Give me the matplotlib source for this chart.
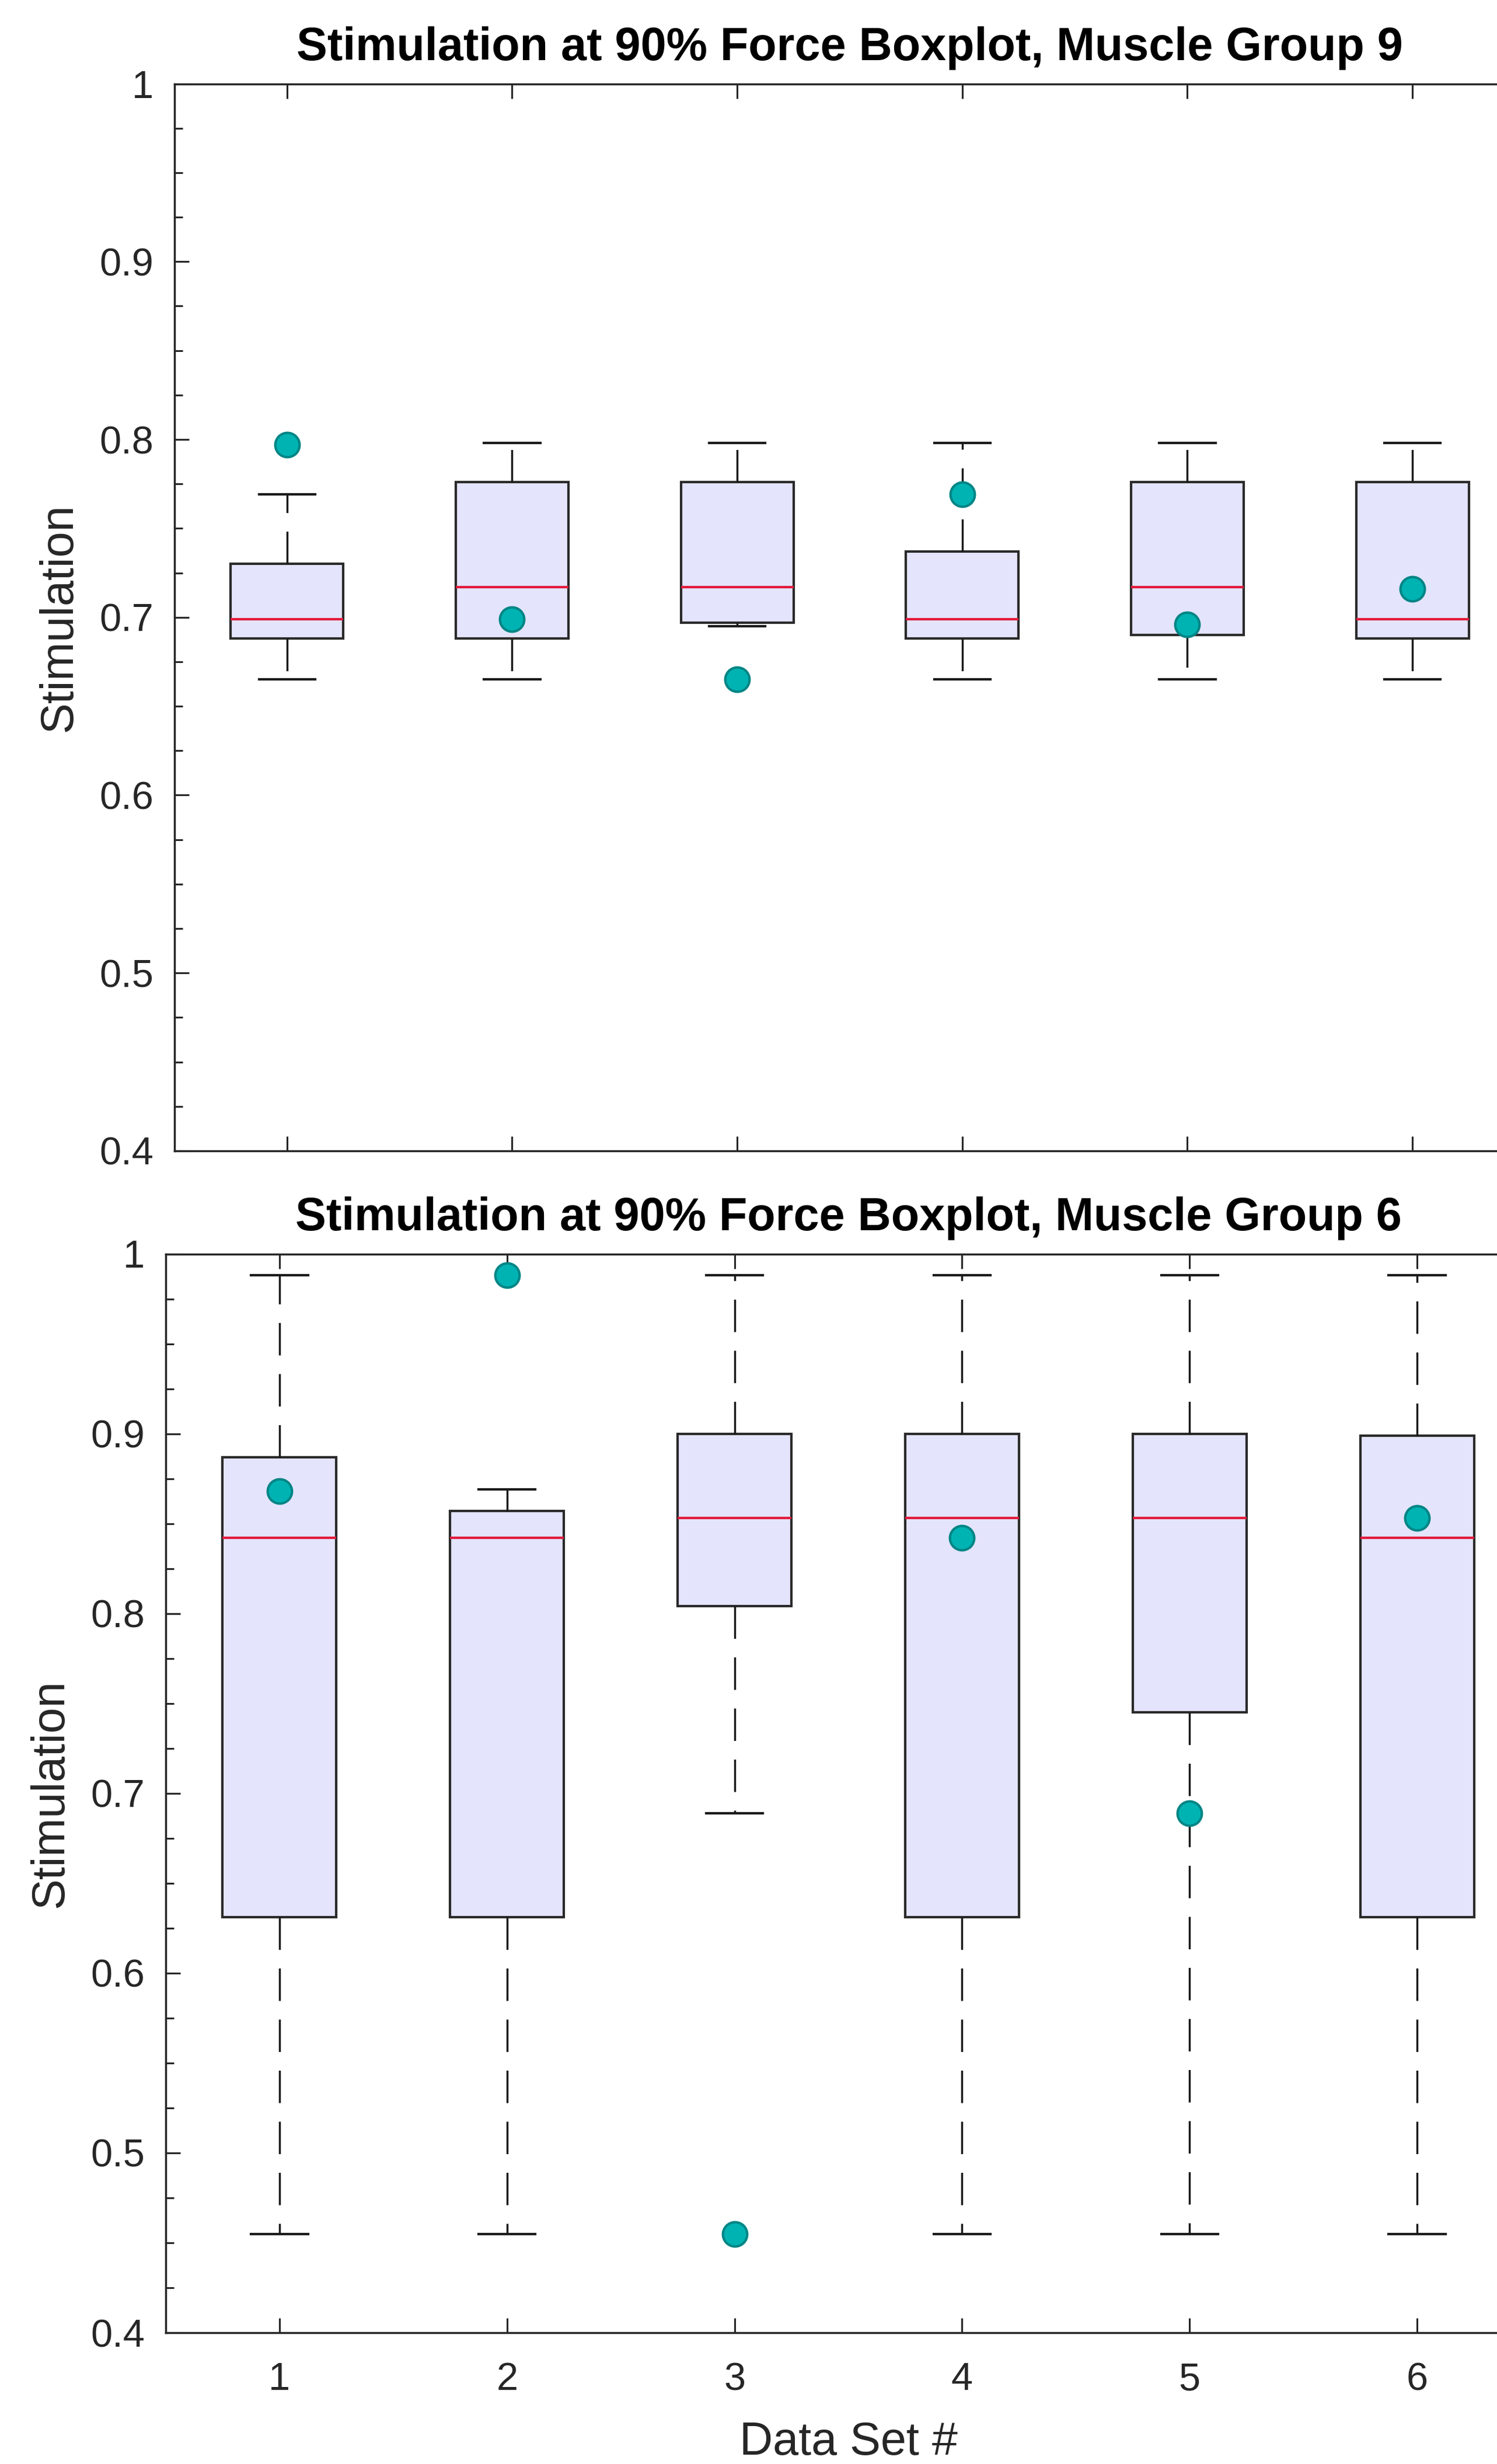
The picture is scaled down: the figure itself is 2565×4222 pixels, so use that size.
import matplotlib
matplotlib.use("Agg")
import matplotlib.pyplot as plt
from matplotlib.ticker import MultipleLocator, FuncFormatter

# data (one entry per data set 1..6)
sets = [1, 2, 3, 4, 5, 6]

# muscle group 9
med9 = [0.699, 0.717, 0.717, 0.699, 0.717, 0.699]
q1_9 = [0.688, 0.688, 0.697, 0.688, 0.690, 0.688]
q3_9 = [0.730, 0.776, 0.776, 0.737, 0.776, 0.776]
lo9 = [0.665, 0.665, 0.695, 0.665, 0.665, 0.665]
hi9 = [0.769, 0.798, 0.798, 0.798, 0.798, 0.798]
dots9 = [0.797, 0.699, 0.665, 0.769, 0.696, 0.716]

# muscle group 6
med6 = [0.842, 0.842, 0.853, 0.853, 0.853, 0.842]
q1_6 = [0.631, 0.631, 0.804, 0.631, 0.745, 0.631]
q3_6 = [0.887, 0.857, 0.900, 0.900, 0.900, 0.899]
lo6 = [0.455, 0.455, 0.689, 0.455, 0.455, 0.455]
hi6 = [0.988, 0.869, 0.988, 0.988, 0.988, 0.988]
dots6 = [0.868, 0.988, 0.455, 0.842, 0.689, 0.853]

plt.rcParams['font.family'] = ['Liberation Sans', 'DejaVu Sans']

W, H = 2565, 4222
fig = plt.figure(figsize=(W / 100, H / 100), dpi=100)
fig.patch.set_facecolor('white')

ax1 = fig.add_axes([299 / W, 1 - 1972 / H, (2613 - 299) / W, (1972 - 143.5) / H])
ax2 = fig.add_axes([284 / W, 1 - 3997 / H, (2623 - 284) / W, (3997 - 2148.5) / H])

dark = '#262626'


def draw(ax, med, q1, q3, lo, hi, dots, title):
    stats = []
    for i in range(len(sets)):
        stats.append({'med': med[i], 'q1': q1[i], 'q3': q3[i],
                      'whislo': lo[i], 'whishi': hi[i], 'fliers': []})
    ax.bxp(stats, positions=sets, widths=0.5, capwidths=0.25,
           patch_artist=True, showfliers=False,
           boxprops=dict(facecolor='#e4e4fc', edgecolor='#2a2a2a', linewidth=3),
           whiskerprops=dict(color='#1a1a1a', linewidth=2.5, linestyle=(0, (16, 9.2))),
           capprops=dict(color='#1a1a1a', linewidth=3),
           medianprops=dict(color='#e31a3c', linewidth=3))
    ax.plot(sets, dots, 'o', color='#00b3b3', markeredgecolor='#008585',
            markersize=30, markeredgewidth=3, zorder=5)

    ax.set_xlim(0.5, 6.5)
    ax.set_ylim(0.4, 1.0)
    ax.set_xticks(sets)
    ax.yaxis.set_major_locator(MultipleLocator(0.1))
    ax.yaxis.set_minor_locator(MultipleLocator(0.025))
    ax.yaxis.set_major_formatter(FuncFormatter(lambda v, p: f'{v:g}'))
    ax.tick_params(axis='both', which='major', direction='in', length=18, width=2.2,
                   color=dark, top=True, right=True, labelsize=48, labelcolor=dark)
    ax.tick_params(axis='y', which='major', pad=26)
    ax.tick_params(axis='x', which='major', pad=36)
    ax.tick_params(axis='y', which='minor', direction='in', length=10, width=2.2,
                   color=dark, right=True)
    for s in ax.spines.values():
        s.set_linewidth(2.5)
        s.set_color(dark)
    ax.set_ylabel('Stimulation', fontsize=57, color=dark, labelpad=22)
    ax.set_title(title, fontsize=57, fontweight='bold', color='black', pad=29)


draw(ax1, med9, q1_9, q3_9, lo9, hi9, dots9,
     'Stimulation at 90% Force Boxplot, Muscle Group 9')
ax1.set_xticklabels([])

draw(ax2, med6, q1_6, q3_6, lo6, hi6, dots6,
     'Stimulation at 90% Force Boxplot, Muscle Group 6')
ax2.set_xticklabels([str(s) for s in sets])
ax2.set_xlabel('Data Set #', fontsize=57, color=dark, labelpad=28)

fig.savefig('out.png', dpi=100)
